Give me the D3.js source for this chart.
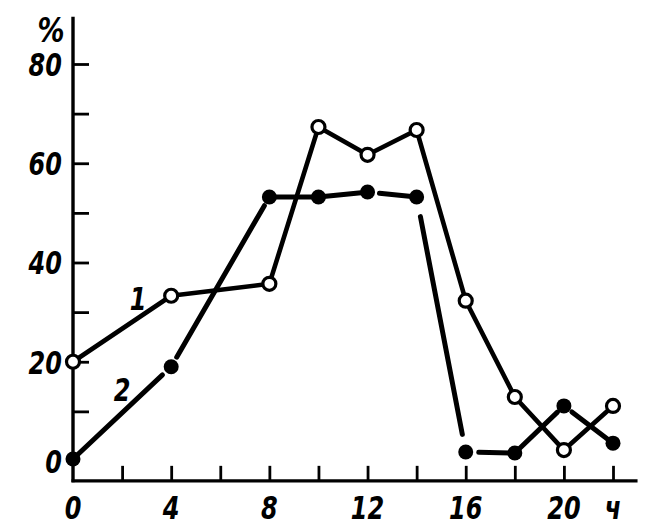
<!DOCTYPE html>
<html><head><meta charset="utf-8">
<script src="https://cdn.jsdelivr.net/npm/d3@7"></script>
<style>
body{margin:0;background:#fff;}
text{font-family:"DejaVu Sans","Liberation Sans",sans-serif;font-style:italic;font-weight:bold;fill:#000;}
</style></head>
<body><svg id="c" width="659" height="532"></svg>
<script>
const hours = [0, 4, 8, 10, 12, 14, 16, 18, 20, 22];
const series1 = [20, 33.3, 35.7, 67.3, 61.7, 66.7, 32.3, 12.9, 2.2, 11.1];
const series2 = [0.4, 19, 53.2, 53.2, 54.2, 53.2, 1.8, 1.6, 11.1, 3.6];
const xTickValues = [2, 4, 6, 8, 10, 12, 14, 16, 18, 20, 22];
const xTickLabels = ["0", "4", "8", "12", "16", "20", "ч"];
const xLabelPos = [0, 4, 8, 12, 16, 20, 22];
const yTickValues = [10, 20, 30, 40, 50, 60, 70, 80];
const yTickLabels = [0, 20, 40, 60, 80];

const svg = d3.select("#c");
const x = d3.scaleLinear().domain([0, 22]).range([73, 613]);
const y = d3.scaleLinear().domain([0, 80]).range([461, 64]);
const yBase = -4, yTop = 89.5, xEnd = 23;
const squeeze = "scale(0.8,1.06)";

// axis lines
svg.append("line").attr("x1", x(0)).attr("x2", x(0)).attr("y1", y(yTop)).attr("y2", y(yBase)+1.5)
  .attr("stroke", "#000").attr("stroke-width", 3.4);
svg.append("line").attr("x1", x(0)-1.5).attr("x2", x(xEnd)).attr("y1", y(yBase)).attr("y2", y(yBase))
  .attr("stroke", "#000").attr("stroke-width", 3.4);

// y ticks
const yAx = svg.append("g").attr("transform", `translate(${x(0)},0)`)
  .call(d3.axisRight(y).tickValues(yTickValues).tickSize(16).tickFormat(""));
yAx.select(".domain").remove();
yAx.selectAll("line").attr("stroke-width", 2.8);

const yLab = svg.append("g").attr("transform", `translate(${x(0)-11},0)`)
  .call(d3.axisLeft(y).tickValues(yTickLabels).tickSize(0).tickPadding(0).tickFormat(d3.format("d")));
yLab.select(".domain").remove();
yLab.selectAll("text").attr("font-size", 30).attr("dy", "0.36em").attr("fill", "#000")
  .attr("transform", squeeze).style("font-family", null);

// x ticks
const xAx = svg.append("g").attr("transform", `translate(0,${y(yBase)})`)
  .call(d3.axisBottom(x).tickValues(xTickValues).tickSize(-15).tickFormat(""));
xAx.select(".domain").remove();
xAx.selectAll("line").attr("stroke-width", 2.8);

svg.append("g").selectAll("g").data(xLabelPos).join("g")
  .attr("transform", d => `translate(${x(d)},519)`)
  .append("text").attr("text-anchor", "middle").attr("transform", squeeze)
  .attr("font-size", 30).text((d, i) => xTickLabels[i]);

// percent sign
svg.append("g").attr("transform", "translate(51,42)").append("text")
  .attr("text-anchor", "middle").attr("transform", "scale(0.9,1.1)")
  .attr("font-size", 30).text("%");

function segments(vals, gap0, gap1) {
  const pts = hours.map((h, i) => [x(h), y(vals[i])]);
  const segs = [];
  for (let i = 0; i < pts.length - 1; i++) {
    const [x1, y1] = pts[i], [x2, y2] = pts[i+1];
    const L = Math.hypot(x2-x1, y2-y1);
    const ux = (x2-x1)/L, uy = (y2-y1)/L;
    const g0 = gap0[i] ?? 0, g1 = gap1[i] ?? 0;
    segs.push([x1+ux*g0, y1+uy*g0, x2-ux*g1, y2-uy*g1]);
  }
  return segs;
}

// series 2 (filled)
const s2segs = segments(series2, [0, 11, 0, 0, 12, 20, 13, 0, 10], [12, 10, 0, 4, 0, 18, 0, 9, 0]);
svg.append("g").selectAll("line").data(s2segs).join("line")
  .attr("x1", d => d[0]).attr("y1", d => d[1]).attr("x2", d => d[2]).attr("y2", d => d[3])
  .attr("stroke", "#000").attr("stroke-width", 5).attr("stroke-linecap", "round");
svg.append("g").selectAll("circle").data(hours).join("circle")
  .attr("cx", d => x(d)).attr("cy", (d, i) => y(series2[i])).attr("r", 7.5).attr("fill", "#000");

// series 1 (open)
const s1segs = segments(series1, [], []);
svg.append("g").selectAll("line").data(s1segs).join("line")
  .attr("x1", d => d[0]).attr("y1", d => d[1]).attr("x2", d => d[2]).attr("y2", d => d[3])
  .attr("stroke", "#000").attr("stroke-width", 4.6).attr("stroke-linecap", "round");
svg.append("g").selectAll("circle").data(hours).join("circle")
  .attr("cx", d => x(d)).attr("cy", (d, i) => y(series1[i])).attr("r", 6.5)
  .attr("fill", "#fff").attr("stroke", "#000").attr("stroke-width", 3.2);

// series labels
svg.append("g").attr("transform", "translate(138,310)").append("text")
  .attr("text-anchor", "middle").attr("transform", squeeze).attr("font-size", 30).text("1");
svg.append("g").attr("transform", "translate(122,401)").append("text")
  .attr("text-anchor", "middle").attr("transform", squeeze).attr("font-size", 30).text("2");
</script></body></html>
